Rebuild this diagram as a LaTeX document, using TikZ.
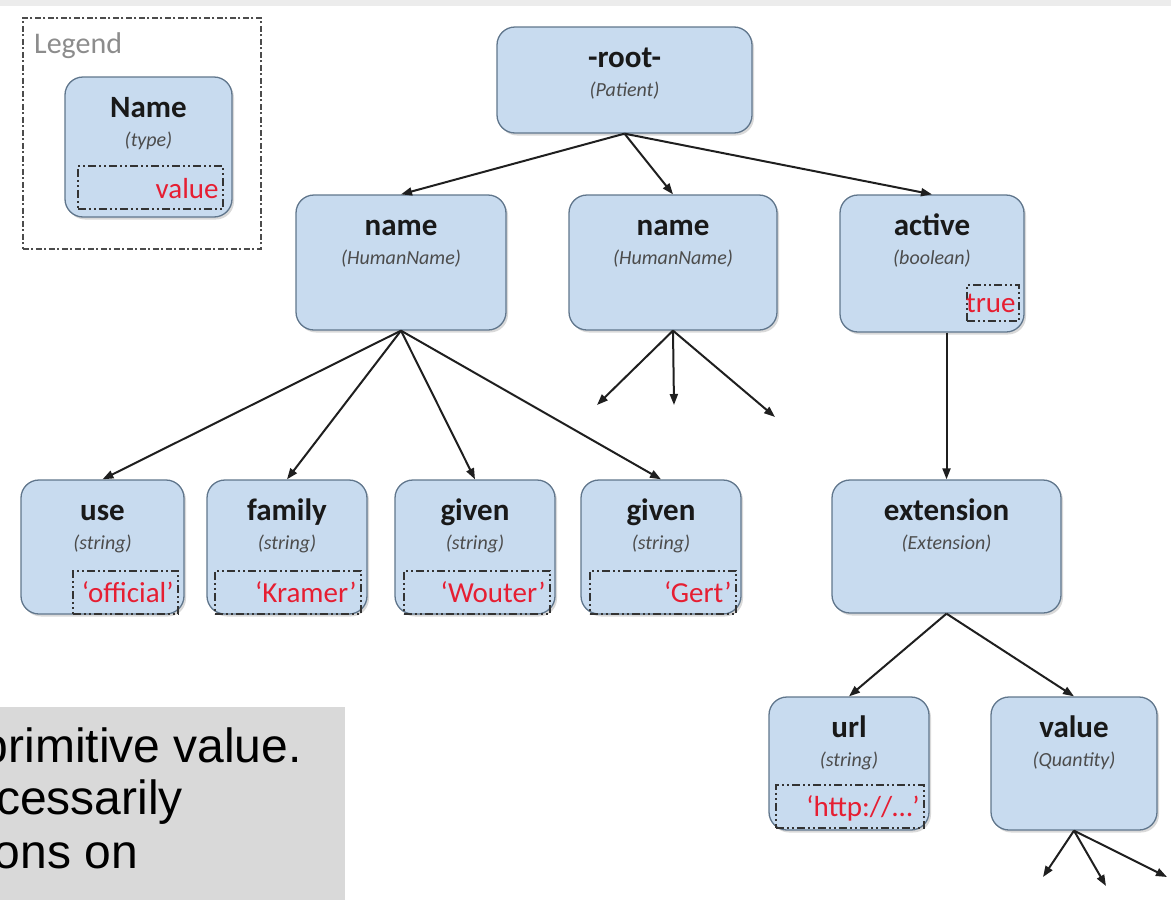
\documentclass[tikz,border=0pt]{standalone}
\usepackage{fontspec}
\setmainfont{Carlito}
\newfontfamily\notefont{Liberation Sans}
\usetikzlibrary{arrows.meta,shadows}
\definecolor{boxblue}{RGB}{200,219,239}
\definecolor{boxline}{RGB}{96,118,140}
\definecolor{valred}{RGB}{230,30,50}
\definecolor{notegray}{RGB}{217,217,217}
\definecolor{topgray}{RGB}{236,236,236}

\begin{document}
\begin{tikzpicture}[x=1pt,y=-1pt]
	\tikzstyle{elem} = [draw=boxline, line width=1.3pt, fill=boxblue, rounded corners=18pt, inner sep=0pt, drop shadow={opacity=0.3, shadow xshift=2pt, shadow yshift=-2.5pt}];
	\tikzstyle{ename} = [anchor=base, inner sep=0pt, text=black!90, font=\bfseries\fontsize{31}{31}\selectfont];
	\tikzstyle{etype} = [anchor=base, inner sep=0pt, text=black!70, font=\itshape\fontsize{20}{20}\selectfont];
	\tikzstyle{valbox} = [anchor=north west, inner sep=0pt, draw=black!80, line width=1.8pt, dash pattern=on 8pt off 3pt on 2pt off 3pt on 2pt off 3pt];
	\tikzstyle{valtext} = [anchor=base east, inner sep=0pt, text=valred, font=\fontsize{29}{29}\selectfont];
	\tikzstyle{link} = [draw=black!88, line width=2pt, -{Triangle[length=11pt,width=8pt]}];
	
	\useasboundingbox (0,0) rectangle (1171,900);
	\fill[topgray] (0,0) rectangle (1171,6);
	
	% legend
	\node[valbox, draw=black!70, line width=1.6pt, dash pattern=on 6pt off 2.5pt on 2pt off 2.5pt, minimum width=238pt, minimum height=231pt] (legend) at (22,17) {};
	\node[anchor=base west, inner sep=0pt, text=black!45, font=\fontsize{30}{30}\selectfont] (legendtitle) at (34,53) {Legend};
	\node[elem, minimum width=167pt, minimum height=140pt] (legendelem) at (148.5,147) {};
	\node[ename] (legendname) at ([yshift=-41pt]legendelem.north) {Name};
	\node[etype] (legendtype) at ([yshift=-70pt]legendelem.north) {(type)};
	\node[valbox, minimum width=145pt, minimum height=43pt] (legendval) at (77,165) {};
	\node[valtext] at ([xshift=-5pt,yshift=11pt]legendval.south east) {value};
	
	% tree
	\node[elem, minimum width=255pt, minimum height=106pt] (root) at (624.5,80) {};
	\node[ename] at ([yshift=-41pt]root.north) {-root-};
	\node[etype] at ([yshift=-70pt]root.north) {(Patient)};
	
	\node[elem, minimum width=210pt, minimum height=135pt] (name1) at (401,262.5) {};
	\node[ename] at ([yshift=-41pt]name1.north) {name};
	\node[etype] at ([yshift=-70pt]name1.north) {(HumanName)};
	
	\node[elem, minimum width=208pt, minimum height=135pt] (name2) at (673,262.5) {};
	\node[ename] at ([yshift=-41pt]name2.north) {name};
	\node[etype] at ([yshift=-70pt]name2.north) {(HumanName)};
	
	\node[elem, minimum width=184pt, minimum height=137pt] (active) at (932,263.5) {};
	\node[ename] at ([yshift=-41pt]active.north) {active};
	\node[etype] at ([yshift=-70pt]active.north) {(boolean)};
	\node[valbox, minimum width=52pt, minimum height=36pt] (activeval) at (966,284) {};
	\node[valtext] at ([xshift=-4pt,yshift=9pt]activeval.south east) {true};
	
	\node[elem, minimum width=163pt, minimum height=134pt] (use) at (102.5,547) {};
	\node[ename] at ([yshift=-41pt]use.north) {use};
	\node[etype] at ([yshift=-70pt]use.north) {(string)};
	\node[valbox, minimum width=105pt, minimum height=43pt] (useval) at (72,570) {};
	\node[valtext] at ([xshift=-5pt,yshift=12pt]useval.south east) {‘official’};
	
	\node[elem, minimum width=160pt, minimum height=134pt] (family) at (287,547) {};
	\node[ename] at ([yshift=-41pt]family.north) {family};
	\node[etype] at ([yshift=-70pt]family.north) {(string)};
	\node[valbox, minimum width=146pt, minimum height=43pt] (familyval) at (214,570) {};
	\node[valtext] at ([xshift=-5pt,yshift=12pt]familyval.south east) {‘Kramer’};
	
	\node[elem, minimum width=160pt, minimum height=134pt] (given1) at (475,547) {};
	\node[ename] at ([yshift=-41pt]given1.north) {given};
	\node[etype] at ([yshift=-70pt]given1.north) {(string)};
	\node[valbox, minimum width=146pt, minimum height=43pt] (given1val) at (403,570) {};
	\node[valtext] at ([xshift=-5pt,yshift=12pt]given1val.south east) {‘Wouter’};
	
	\node[elem, minimum width=160pt, minimum height=134pt] (given2) at (661,547) {};
	\node[ename] at ([yshift=-41pt]given2.north) {given};
	\node[etype] at ([yshift=-70pt]given2.north) {(string)};
	\node[valbox, minimum width=146pt, minimum height=43pt] (given2val) at (589,570) {};
	\node[valtext] at ([xshift=-5pt,yshift=12pt]given2val.south east) {‘Gert’};
	
	\node[elem, minimum width=229pt, minimum height=133pt] (extension) at (946.5,546.5) {};
	\node[ename] at ([yshift=-41pt]extension.north) {extension};
	\node[etype] at ([yshift=-70pt]extension.north) {(Extension)};
	
	\node[elem, minimum width=160pt, minimum height=133pt] (url) at (849,763.5) {};
	\node[ename] at ([yshift=-41pt]url.north) {url};
	\node[etype] at ([yshift=-70pt]url.north) {(string)};
	\node[valbox, minimum width=148pt, minimum height=43pt] (urlval) at (775,784) {};
	\node[valtext] at ([xshift=-5pt,yshift=12pt]urlval.south east) {‘http://…’};
	
	\node[elem, minimum width=166pt, minimum height=133pt] (value) at (1074,763.5) {};
	\node[ename] at ([yshift=-41pt]value.north) {value};
	\node[etype] at ([yshift=-70pt]value.north) {(Quantity)};
	
	% loose ends
	\coordinate (n2a) at (597,405);
	\coordinate (n2b) at (674,405);
	\coordinate (n2c) at (775,417);
	\coordinate (va) at (1043,877);
	\coordinate (vb) at (1106,886);
	\coordinate (vc) at (1167,877);
	
	\draw[link] (root.south) -- (name1.north);
	\draw[link] (root.south) -- (name2.north);
	\draw[link] (root.south) -- (active.north);
	
	\draw[link] (name1.south) -- (use.north);
	\draw[link] (name1.south) -- (family.north);
	\draw[link] (name1.south) -- (given1.north);
	\draw[link] (name1.south) -- (given2.north);
	
	\draw[link] (name2.south) -- (n2a);
	\draw[link] (name2.south) -- (n2b);
	\draw[link] (name2.south) -- (n2c);
	
	\draw[link] (active.south -| extension.north) -- (extension.north);
	\draw[link] (extension.south) -- (url.north);
	\draw[link] (extension.south) -- (value.north);
	
	\draw[link] (value.south) -- (va);
	\draw[link] (value.south) -- (vb);
	\draw[link] (value.south) -- (vc);
	
	% note, cut at the left
	\node[anchor=north west, inner sep=0pt, fill=notegray, minimum width=345pt, minimum height=193pt] (note) at (0,707) {};
	\begin{scope}
		\clip (note.north west) rectangle (note.south east);
		\node[anchor=base east, inner sep=0pt, font=\notefont\fontsize{48}{48}\selectfont] (note1) at (302,762) {primitive value.};
		\node[anchor=base east, inner sep=0pt, font=\notefont\fontsize{48}{48}\selectfont] (note2) at (183,814) {cessarily};
		\node[anchor=base east, inner sep=0pt, font=\notefont\fontsize{48}{48}\selectfont] (note3) at (138,868) {ons on};
	\end{scope}
\end{tikzpicture}
\end{document}
